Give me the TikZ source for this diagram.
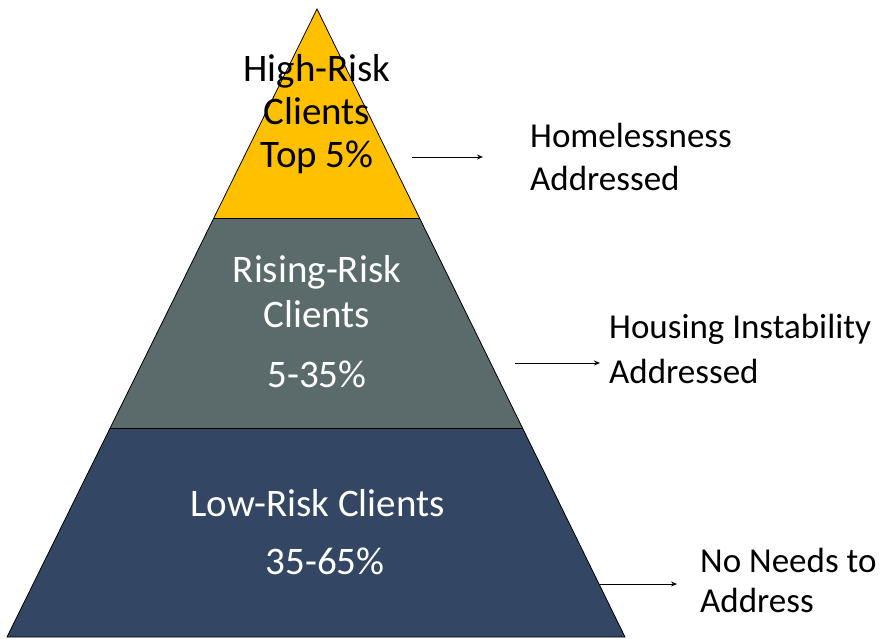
\documentclass[tikz,border=0pt]{standalone}
\usepackage{fontspec}
\setmainfont{Carlito}
\usetikzlibrary{calc,arrows.meta}
\definecolor{tierTop}{HTML}{FFC000}
\definecolor{tierMid}{HTML}{5B6A6A}
\definecolor{tierLow}{HTML}{334764}
\tikzset{
  tier/.style={draw=black,line width=0.8pt,line join=miter},
  pyrtext/.style={anchor=base,inner sep=0pt,font=\fontsize{39}{47}\selectfont},
  sidetext/.style={anchor=base west,inner sep=0pt,font=\fontsize{35}{43}\selectfont,text=black},
  pointer/.style={draw=black,line width=0.9pt,-{Stealth[length=6pt,width=5pt]}}
}
\begin{document}
\begin{tikzpicture}[x=1pt,y=-1pt]
\useasboundingbox (0,0) rectangle (881,639);
\coordinate (apex) at (317,9);
\coordinate (bl) at (7,637);
\coordinate (br) at (625,637);
\coordinate (l1) at ($(apex)!0.3328!(bl)$);
\coordinate (r1) at ($(apex)!0.3328!(br)$);
\coordinate (l2) at ($(apex)!0.6672!(bl)$);
\coordinate (r2) at ($(apex)!0.6672!(br)$);
\fill[tierLow] (l2) -- (r2) -- (br) -- (bl) -- cycle;
\fill[tierMid] (l1) -- (r1) -- (r2) -- (l2) -- cycle;
\fill[tierTop] (apex) -- (r1) -- (l1) -- cycle;
\draw[tier] (apex) -- (br) -- (bl) -- cycle;
\draw[tier] (l1) -- (r1);
\draw[tier] (l2) -- (r2);
% pyramid labels
\node[pyrtext,text=black] (t1) at (317,82) {High-Risk};
\node[pyrtext,text=black] (t2) at (317,125) {Clients};
\node[pyrtext,text=black] (t3) at (317,168) {Top 5\%};
\node[pyrtext,text=white] (m1) at (317,283) {Rising-Risk};
\node[pyrtext,text=white] (m2) at (317,327) {Clients};
\node[pyrtext,text=white] (m3) at (317,387) {5-35\%};
\node[pyrtext,text=white] (b1) at (317.5,516) {Low-Risk Clients};
\node[pyrtext,text=white] (b2) at (325,574) {35-65\%};
% side labels
\node[sidetext] (h1) at (530,148) {Homelessness};
\node[sidetext] (h2) at (530,191) {Addressed};
\node[sidetext] (s1) at (609,338) {Housing Instability};
\node[sidetext] (s2) at (609,383) {Addressed};
\node[sidetext] (n1) at (700,572) {No Needs to};
\node[sidetext] (n2) at (700,612) {Address};
% arrows
\coordinate (a1s) at (412,157);
\coordinate (a1e) at (483,157);
\coordinate (a2s) at (515,363);
\coordinate (a2e) at (600,363);
\coordinate (a3s) at (600,584);
\coordinate (a3e) at (677,584);
\draw[pointer] (a1s) -- (a1e);
\draw[pointer] (a2s) -- (a2e);
\draw[pointer] (a3s) -- (a3e);
\end{tikzpicture}
\end{document}
